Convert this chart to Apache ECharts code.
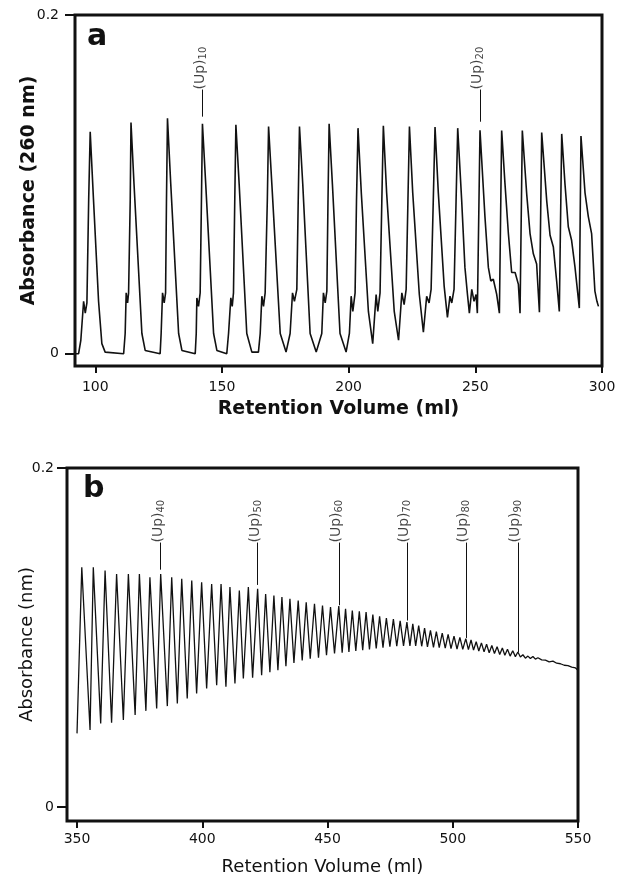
<!DOCTYPE html>
<html>
<head>
<meta charset="utf-8">
<script src="https://cdn.jsdelivr.net/npm/echarts@6/dist/echarts.min.js"></script>
<style>
  html, body { margin: 0; padding: 0; background: #fff; }
  #chart { width: 617px; height: 880px; }
</style>
</head>
<body>
<div id="chart"></div>
<script>
// panel a: traced elution profile (ml, absorbance)
const aVolume = [
  92.0, 93.4, 94.3, 95.4, 96.05, 96.7, 97.4, 98.0, 99.3, 101.3, 102.6, 103.9,
  111.2, 111.8, 112.2, 112.75, 113.15, 113.8, 114.1, 115.3, 118.4, 119.7,
  125.6, 126.0, 126.55, 127.2, 127.75, 128.1, 128.5, 129.8, 132.9, 134.2,
  139.45, 139.85, 140.1, 140.75, 141.4, 141.9, 142.3, 143.6, 146.7, 148.0,
  151.9, 152.6, 153.5, 154.05, 154.55, 155.05, 155.5, 156.8, 159.8, 161.8,
  164.4, 165.1, 165.75, 166.4, 167.05, 167.9, 168.4, 169.7, 173.0, 175.3,
  176.9, 177.85, 178.6, 179.55, 180.1, 180.6, 181.9, 184.8, 187.2,
  189.4, 190.05, 190.75, 191.4, 191.85, 192.3, 193.6, 196.6, 199.0,
  200.3, 201.0, 201.65, 202.55, 203.1, 203.7, 205.0, 207.8, 209.5,
  210.85, 211.5, 212.4, 213.1, 213.7, 215.0, 218.0, 219.7,
  221.0, 221.9, 222.7, 223.4, 224.0, 225.3, 227.9, 229.5,
  230.8, 231.75, 232.55, 233.4, 234.1, 235.4, 237.7, 239.0,
  240.0, 240.7, 241.6, 242.4, 243.05, 244.6, 245.9, 246.9, 247.65, 248.6, 249.5, 250.3, 250.8,
  251.85, 253.8, 255.15, 256.1, 257.1, 258.45, 259.5,
  260.4, 261.7, 263.05, 264.35, 265.7, 267.0, 267.65,
  268.55, 270.3, 271.6, 272.9, 274.2, 275.3,
  276.2, 278.2, 279.5, 280.8, 282.1, 283.15,
  284.1, 285.4, 286.7, 288.0, 289.35, 291.05,
  291.7, 293.3, 294.6, 295.9, 297.2, 298.0, 298.6
];
const aAbsorbance = [
  0, 0, 0.008, 0.031, 0.024, 0.030, 0.091, 0.131, 0.091, 0.031, 0.006, 0.001,
  0, 0.012, 0.036, 0.030, 0.036, 0.091, 0.1365, 0.100, 0.012, 0.002,
  0, 0.012, 0.036, 0.030, 0.036, 0.09, 0.139, 0.10, 0.012, 0.002,
  0, 0.012, 0.033, 0.028, 0.036, 0.09, 0.1358, 0.10, 0.012, 0.002,
  0, 0.012, 0.033, 0.028, 0.036, 0.09, 0.1352, 0.10, 0.012, 0.001,
  0.001, 0.012, 0.034, 0.028, 0.036, 0.09, 0.1342, 0.10, 0.012, 0.001,
  0.012, 0.036, 0.031, 0.038, 0.09, 0.1342, 0.10, 0.012, 0.001,
  0.012, 0.036, 0.030, 0.037, 0.09, 0.1358, 0.10, 0.012, 0.001,
  0.012, 0.034, 0.025, 0.036, 0.09, 0.1332, 0.095, 0.025, 0.006,
  0.035, 0.025, 0.036, 0.09, 0.1346, 0.095, 0.025, 0.008,
  0.036, 0.029, 0.038, 0.09, 0.1342, 0.095, 0.035, 0.0127,
  0.034, 0.030, 0.038, 0.09, 0.1338, 0.095, 0.040, 0.0215,
  0.034, 0.030, 0.038, 0.09, 0.1332, 0.091, 0.051, 0.035, 0.024, 0.038, 0.031, 0.035, 0.024,
  0.132, 0.081, 0.051, 0.043, 0.044, 0.035, 0.024,
  0.1318, 0.1006, 0.071, 0.048, 0.048, 0.041, 0.024,
  0.1318, 0.094, 0.071, 0.059, 0.053, 0.0245,
  0.1306, 0.090, 0.070, 0.063, 0.043, 0.025,
  0.1298, 0.100, 0.075, 0.067, 0.051, 0.027,
  0.1286, 0.095, 0.081, 0.071, 0.037, 0.031, 0.028
];

// panel b: alternating valleys and peaks
const bVolume = [
  350.0, 351.9, 355.2, 356.5, 359.45, 361.2, 363.8, 365.8, 368.5, 370.5,
  373.2, 374.9, 377.5, 379.1, 381.8, 383.4, 386.05, 387.8, 390.05, 391.8,
  394.0, 395.8, 397.75, 399.75, 401.75, 403.75, 405.75, 407.5, 409.45, 411.05,
  413.05, 414.8, 416.4, 418.4, 420.1, 422.1, 423.7, 425.3, 427.0, 428.6,
  430.2, 431.8, 433.4, 435.0, 436.6, 438.3, 439.9, 441.5, 443.1, 444.8,
  446.4, 448.0, 449.6, 451.2, 452.8, 454.5, 455.85, 457.2, 458.55, 459.9,
  461.3, 462.7, 464.05, 465.4, 466.75, 468.1, 469.45, 470.8, 472.15, 473.5,
  474.9, 476.3, 477.65, 479.0, 480.35, 481.7, 482.9, 484.05, 485.2, 486.4,
  487.6, 488.75, 489.9, 491.1, 492.3, 493.45, 494.6, 495.8, 497.0, 498.15,
  499.3, 500.5, 501.7, 502.85, 504.0, 505.2, 506.25, 507.3, 508.3, 509.35,
  510.4, 511.45, 512.5, 513.5, 514.55, 515.6, 516.65, 517.7, 518.75, 519.8,
  520.8, 521.85, 522.9, 523.95, 525.0, 526.0, 527.0, 528.0, 529.0, 530.0,
  531.0, 532.0, 533.0, 534.0, 535.5, 537.0, 538.5, 540.0, 541.5, 543.0,
  544.5, 546.0, 547.5, 549.0, 550.0
];
const bAbsorbance = [
  0.0434, 0.1414, 0.0454, 0.1414, 0.0493, 0.1395, 0.0497, 0.1375, 0.0513, 0.1375,
  0.0542, 0.1375, 0.0567, 0.1355, 0.0581, 0.1375, 0.0595, 0.1355, 0.0611, 0.1346,
  0.0640, 0.1336, 0.0669, 0.1326, 0.0699, 0.1316, 0.0718, 0.1316, 0.0709, 0.1297,
  0.0728, 0.1277, 0.0758, 0.1297, 0.0763, 0.1287, 0.0777, 0.1257, 0.0795, 0.1247,
  0.0807, 0.1238, 0.0830, 0.1228, 0.0850, 0.1218, 0.0865, 0.1208, 0.0875, 0.1199,
  0.0880, 0.1189, 0.0895, 0.1179, 0.0905, 0.1185, 0.0910, 0.1169, 0.0914, 0.1159,
  0.0920, 0.1155, 0.0925, 0.1150, 0.0930, 0.1135, 0.0935, 0.1125, 0.0940, 0.1115,
  0.0945, 0.1108, 0.0948, 0.1098, 0.0950, 0.1091, 0.0950, 0.1080, 0.0950, 0.1070,
  0.0948, 0.1055, 0.0945, 0.1042, 0.0942, 0.1035, 0.0940, 0.1025, 0.0937, 0.1018,
  0.0934, 0.1008, 0.0932, 0.1000, 0.0930, 0.0993, 0.0928, 0.0985, 0.0925, 0.0975,
  0.0920, 0.0968, 0.0915, 0.0960, 0.0910, 0.0953, 0.0905, 0.0945, 0.0900, 0.0938,
  0.0895, 0.0930, 0.0890, 0.0922, 0.0887, 0.0914, 0.0885, 0.0898, 0.0878, 0.0890,
  0.0876, 0.0888, 0.0872, 0.0880, 0.0868, 0.0866, 0.0856, 0.0860, 0.0848, 0.0845,
  0.0836, 0.0834, 0.0825, 0.0820, 0.0806
];

// peak labels: position, subscript, leader line top / bottom
const aMarkVolume = [142.3, 251.85];
const aMarkName = ['10', '20'];
const aMarkTop = [0.156, 0.156];
const aMarkBottom = [0.140, 0.137];

const bMarkVolume = [383.4, 422.1, 454.5, 481.7, 505.2, 526.0];
const bMarkName = ['40', '50', '60', '70', '80', '90'];
const bMarkTop = [0.156, 0.156, 0.156, 0.156, 0.156, 0.156];
const bMarkBottom = [0.140, 0.131, 0.119, 0.110, 0.0997, 0.0914];

const aTicks = [100, 150, 200, 250, 300];
const bTicks = [350, 400, 450, 500, 550];
const yTicks = [0, 0.2];

const FONT = 'DejaVu Sans';
const zip = (xs, ys) => xs.map((x, i) => [x, ys[i]]);

function markSeries(idx, xs, names, tops, bottoms) {
  return {
    type: 'scatter',
    xAxisIndex: idx,
    yAxisIndex: idx,
    symbolSize: 1,
    itemStyle: { color: 'rgba(0,0,0,0)' },
    silent: true,
    data: xs.map((x, i) => [x, tops[i], names[i]]),
    label: {
      show: true,
      position: 'inside',
      rotate: 90,
      align: 'left',
      verticalAlign: 'middle',
      offset: [0, -2],
      formatter: (p) => '{u|(Up)}{s|' + p.value[2] + '}',
      rich: {
        u: { fontFamily: FONT, fontSize: 14, color: '#111', verticalAlign: 'top', lineHeight: 15 },
        s: { fontFamily: FONT, fontSize: 10, color: '#111', verticalAlign: 'bottom', lineHeight: 11, padding: [8, 0, 0, 0] }
      }
    },
    markLine: {
      silent: true,
      symbol: ['none', 'none'],
      label: { show: false },
      lineStyle: { color: '#111', width: 1, type: 'solid' },
      data: xs.map((x, i) => [{ coord: [x, tops[i]] }, { coord: [x, bottoms[i]] }])
    }
  };
}

function xAxis(idx, min, max, ticks, name, bold, margin, gap) {
  return {
    type: 'value',
    gridIndex: idx,
    min: min,
    max: max,
    axisLine: { show: false, onZero: false },
    splitLine: { show: false },
    axisTick: { customValues: ticks, length: 7, lineStyle: { color: '#111', width: 2 } },
    axisLabel: { customValues: ticks, color: '#111', fontFamily: FONT, fontSize: 14, margin: margin },
    name: name,
    nameLocation: 'middle',
    nameGap: gap,
    nameMoveOverlap: false,
    nameTextStyle: { color: '#111', fontFamily: FONT, fontSize: bold ? 19 : 18, fontWeight: bold ? 'bold' : 'normal' }
  };
}

function yAxis(idx, min, name, bold, margin, gap) {
  return {
    type: 'value',
    gridIndex: idx,
    min: min,
    max: 0.2,
    axisLine: { show: false, onZero: false },
    splitLine: { show: false },
    axisTick: { customValues: yTicks, length: 10, lineStyle: { color: '#111', width: 2 } },
    axisLabel: { customValues: yTicks, color: '#111', fontFamily: FONT, fontSize: 14, margin: margin },
    name: name,
    nameLocation: 'middle',
    nameGap: gap,
    nameMoveOverlap: false,
    nameTextStyle: { color: '#111', fontFamily: FONT, fontSize: bold ? 19 : 18, fontWeight: bold ? 'bold' : 'normal' }
  };
}

const chart = echarts.init(document.getElementById('chart'), null, { renderer: 'canvas' });
chart.setOption({
  backgroundColor: '#fff',
  animation: false,
  grid: [
    { left: 75, right: 15, top: 15, height: 351, containLabel: false, outerBoundsMode: 'none', show: true, borderColor: '#111', borderWidth: 3, backgroundColor: 'transparent' },
    { left: 67, right: 39, top: 468, height: 353, containLabel: false, outerBoundsMode: 'none', show: true, borderColor: '#111', borderWidth: 3, backgroundColor: 'transparent' }
  ],
  xAxis: [
    xAxis(0, 92, 300, aTicks, 'Retention Volume (ml)', true, 14, 34),
    xAxis(1, 346, 550, bTicks, 'Retention Volume (ml)', false, 11, 37)
  ],
  yAxis: [
    yAxis(0, -0.0072, 'Absorbance (260 nm)', true, 16, 36),
    yAxis(1, -0.0083, 'Absorbance (nm)', false, 13, 31)
  ],
  graphic: [
    { type: 'text', left: 87, top: 22, style: { text: 'a', font: 'bold 30px "DejaVu Sans"', fill: '#111' } },
    { type: 'text', left: 83, top: 474, style: { text: 'b', font: 'bold 30px "DejaVu Sans"', fill: '#111' } }
  ],
  series: [
    {
      type: 'line',
      xAxisIndex: 0,
      yAxisIndex: 0,
      showSymbol: false,
      silent: true,
      lineStyle: { color: '#111', width: 1.6 },
      data: zip(aVolume, aAbsorbance)
    },
    {
      type: 'line',
      xAxisIndex: 1,
      yAxisIndex: 1,
      showSymbol: false,
      silent: true,
      lineStyle: { color: '#111', width: 1.3 },
      data: zip(bVolume, bAbsorbance)
    },
    markSeries(0, aMarkVolume, aMarkName, aMarkTop, aMarkBottom),
    markSeries(1, bMarkVolume, bMarkName, bMarkTop, bMarkBottom)
  ]
});
</script>
</body>
</html>
